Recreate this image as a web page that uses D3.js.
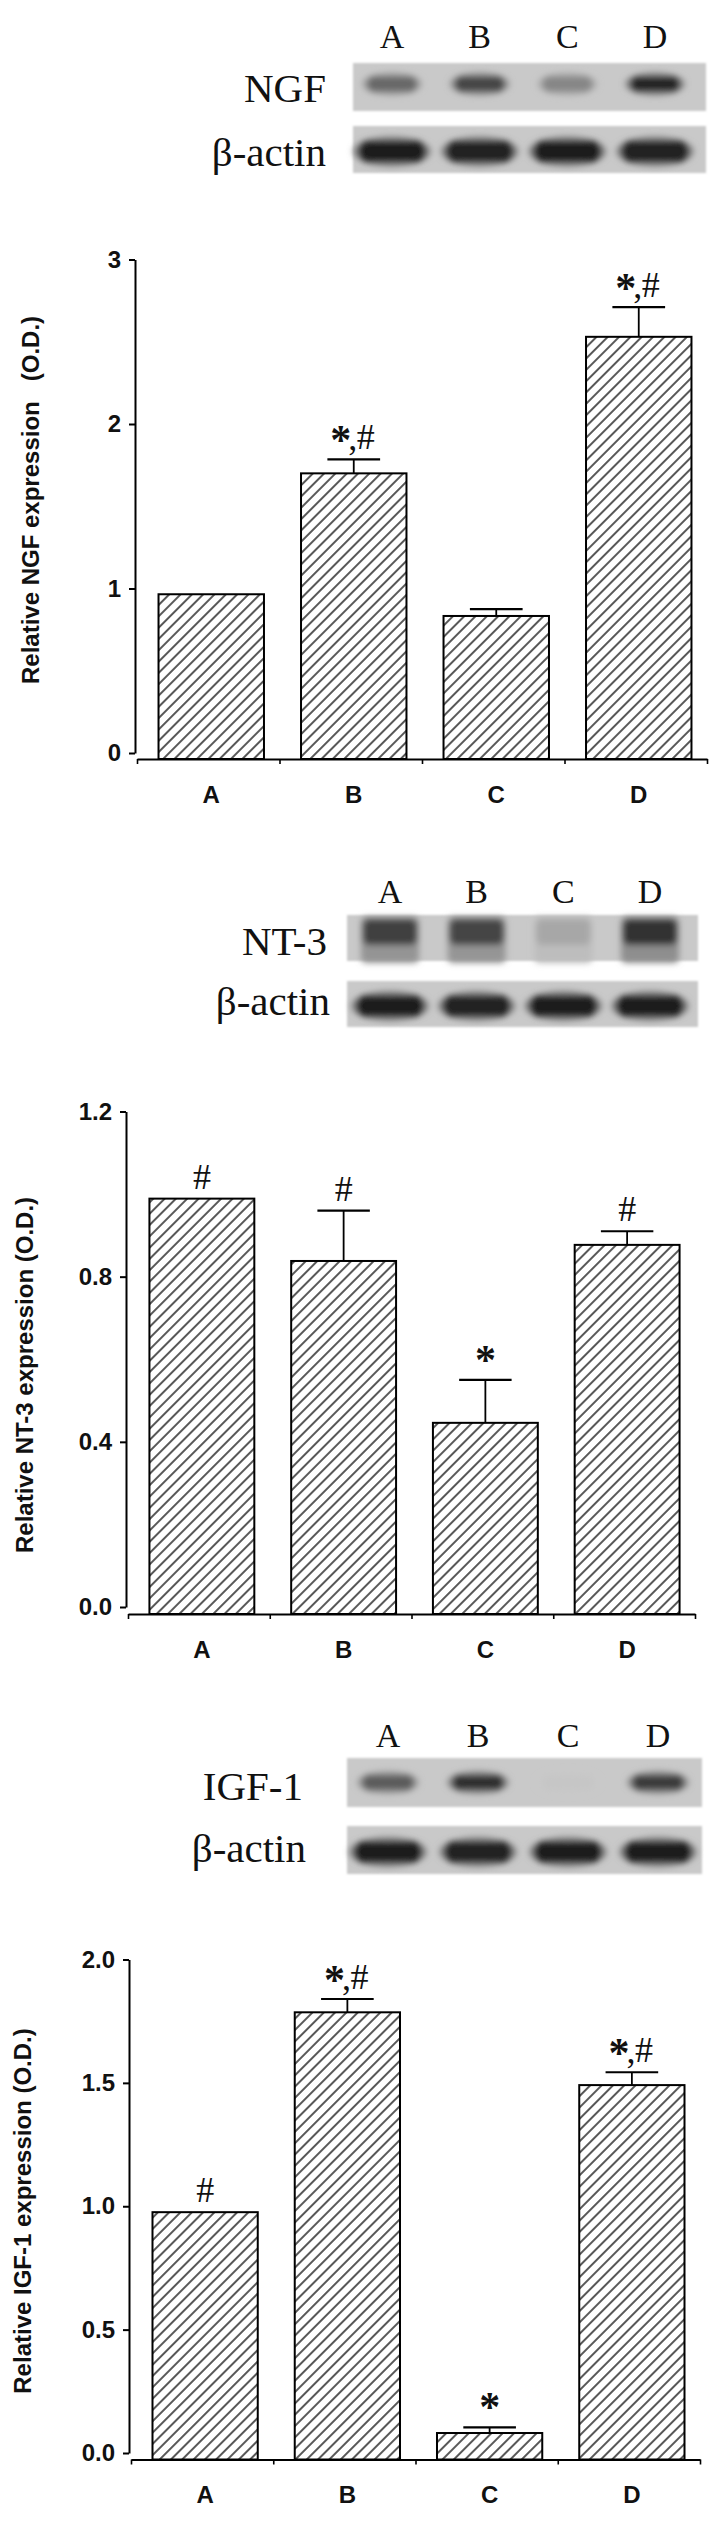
<!DOCTYPE html>
<html><head><meta charset="utf-8">
<script src="https://cdn.jsdelivr.net/npm/d3@7"></script>
<style>
body{margin:0;background:#fff;}
svg{display:block;}
</style></head><body>
<svg id="fig" width="711" height="2523"></svg>
<script>
// ---------- data ----------
const lanes = ["A", "B", "C", "D"];

// NGF
const ngfMean = [0.965, 1.70, 0.833, 2.53];
const ngfSem = [0.0, 0.085, 0.042, 0.18];
const ngfMarks = ["", "*,#", "", "*,#"];
const ngfTicks = [0, 1, 2, 3];
const ngfBlot = [0.55, 0.74, 0.38, 0.93];
const ngfActin = [0.95, 0.93, 0.96, 0.93];

// NT-3
const nt3Mean = [0.989, 0.838, 0.446, 0.877];
const nt3Sem = [0.0, 0.122, 0.104, 0.033];
const nt3Marks = ["#", "#", "*", "#"];
const nt3Ticks = [0.0, 0.4, 0.8, 1.2];
const nt3Blot = [0.76, 0.74, 0.2, 0.84];
const nt3Actin = [0.97, 0.93, 0.97, 0.95];

// IGF-1
const igfMean = [0.976, 1.786, 0.081, 1.491];
const igfSem = [0.0, 0.054, 0.023, 0.052];
const igfMarks = ["#", "*,#", "*", "*,#"];
const igfTicks = [0.0, 0.5, 1.0, 1.5, 2.0];
const igfBlot = [0.62, 0.86, 0.03, 0.8];
const igfActin = [0.96, 0.93, 0.97, 0.95];

// ---------- layout ----------
const SERIF = "'Liberation Serif','Times New Roman',serif";
const SANS = "'Liberation Sans',Arial,Helvetica,sans-serif";

const panels = [
  {name: "NGF", mean: ngfMean, sem: ngfSem, marks: ngfMarks, ticks: ngfTicks, fmt: d3.format("d"),
   blot: ngfBlot, actin: ngfActin, title: "Relative NGF expression\u00a0\u00a0\u00a0(O.D.)",
   laneRange: [392, 655], laneY: 48, boxX: [353, 706], box1: [63, 111], box2: [126, 173],
   bandW: 50, bandH: 15, bandDy: -3, nameX: 326, nameY: 102, actinX: 326, actinY: 166,
   axisX: 135, yRange: [753, 259.5], xAxisY: 759, xRange: [137, 707], titleX: 31, titleY: 500},
  {name: "NT-3", mean: nt3Mean, sem: nt3Sem, marks: nt3Marks, ticks: nt3Ticks, fmt: d3.format(".1f"),
   blot: nt3Blot, actin: nt3Actin, title: "Relative NT-3 expression (O.D.)",
   laneRange: [390, 650], laneY: 903, boxX: [347, 698], box1: [915, 961], box2: [981, 1027],
   bandW: 54, bandH: 26, bandDy: -6, nameX: 327, nameY: 955, actinX: 330, actinY: 1015,
   axisX: 126, yRange: [1607, 1111.5], xAxisY: 1614, xRange: [128, 695], titleX: 25, titleY: 1375},
  {name: "IGF-1", mean: igfMean, sem: igfSem, marks: igfMarks, ticks: igfTicks, fmt: d3.format(".1f"),
   blot: igfBlot, actin: igfActin, title: "Relative IGF-1 expression (O.D.)",
   laneRange: [388, 658], laneY: 1747, boxX: [347, 702], box1: [1758, 1807], box2: [1826, 1874],
   bandW: 52, bandH: 15, bandDy: 0, nameX: 303, nameY: 1800, actinX: 306, actinY: 1862,
   axisX: 129, yRange: [2453, 1959.5], xAxisY: 2459.5, xRange: [131, 700], titleX: 23, titleY: 2211}
];

const svg = d3.select("#fig");
const defs = svg.append("defs");
const pat = defs.append("pattern").attr("id", "hatch").attr("patternUnits", "userSpaceOnUse")
  .attr("width", 8).attr("height", 8).attr("patternTransform", "rotate(45)");
pat.append("rect").attr("width", 8).attr("height", 8).attr("fill", "#fff");
pat.append("line").attr("x1", 4).attr("y1", -1).attr("x2", 4).attr("y2", 9)
  .attr("stroke", "#111").attr("stroke-width", 1.4);
const blur = defs.append("filter").attr("id", "blur").attr("x", "-60%").attr("y", "-150%")
  .attr("width", "220%").attr("height", "400%");
blur.append("feGaussianBlur").attr("stdDeviation", 3.2);
const blurBox = defs.append("filter").attr("id", "blurBox").attr("x", "-5%").attr("y", "-20%")
  .attr("width", "110%").attr("height", "140%");
blurBox.append("feGaussianBlur").attr("stdDeviation", 0.8);

const shade = d3.interpolateRgb("#cbcbcb", "#161616");

panels.forEach(p => {
  const g = svg.append("g");

  // ----- western blot -----
  const lane = d3.scalePoint().domain(lanes).range(p.laneRange);
  g.append("g").selectAll("text").data(lanes).join("text")
    .attr("x", d => lane(d)).attr("y", p.laneY).attr("text-anchor", "middle")
    .attr("font-family", SERIF).attr("font-size", 34).attr("fill", "#111").text(d => d);

  const rows = [
    {box: p.box1, vals: p.blot, w: p.bandW, h: p.bandH, dy: p.bandDy, label: p.name, lx: p.nameX, ly: p.nameY, tall: p.name === "NT-3"},
    {box: p.box2, vals: p.actin, w: 68, h: 22, dy: 2, label: "\u03b2-actin", lx: p.actinX, ly: p.actinY, tall: false}
  ];
  rows.forEach(r => {
    g.append("rect").attr("x", p.boxX[0]).attr("y", r.box[0])
      .attr("width", p.boxX[1] - p.boxX[0]).attr("height", r.box[1] - r.box[0])
      .attr("fill", "#c9c9c9").attr("filter", "url(#blurBox)");
    const cy = (r.box[0] + r.box[1]) / 2 + r.dy;
    const bands = g.append("g").attr("filter", "url(#blur)");
    if (r.tall) {
      // broad diffuse lower smear for the wide NT-3 bands
      bands.selectAll("rect.halo").data(lanes).join("rect").attr("class", "halo")
        .attr("x", d => lane(d) - r.w / 2 - 2).attr("width", r.w + 4)
        .attr("y", cy - r.h / 2 - 2).attr("height", r.h + 20).attr("rx", 5)
        .attr("fill", (d, i) => shade(r.vals[i] * 0.4));
    } else {
      bands.selectAll("ellipse.halo").data(lanes).join("ellipse").attr("class", "halo")
        .attr("cx", d => lane(d)).attr("rx", r.w / 2 + 5)
        .attr("cy", cy).attr("ry", r.h / 2 + 4)
        .attr("fill", (d, i) => shade(r.vals[i] * 0.4));
    }
    const rr = r.tall ? 6 : r.h / 2;
    bands.selectAll("rect.core").data(lanes).join("rect").attr("class", "core")
      .attr("x", d => lane(d) - r.w / 2).attr("width", r.w)
      .attr("y", cy - r.h / 2).attr("height", r.h)
      .attr("rx", rr).attr("ry", rr)
      .attr("fill", (d, i) => shade(r.vals[i]));
    g.append("text").attr("x", r.lx).attr("y", r.ly).attr("text-anchor", "end")
      .attr("font-family", SERIF).attr("font-size", 41).attr("fill", "#111").text(r.label);
  });

  // ----- bar chart -----
  const y = d3.scaleLinear().domain([0, d3.max(p.ticks)]).range(p.yRange);
  const x = d3.scaleBand().domain(lanes).range(p.xRange).paddingInner(0.26).paddingOuter(0.13);
  const shift = 3;
  const bw = x.bandwidth();
  const cx = d => x(d) + shift + bw / 2;

  // bars
  g.append("g").selectAll("rect").data(lanes).join("rect")
    .attr("x", d => x(d) + shift).attr("width", bw)
    .attr("y", (d, i) => y(p.mean[i]))
    .attr("height", (d, i) => p.xAxisY - y(p.mean[i]))
    .attr("fill", "url(#hatch)").attr("stroke", "#000").attr("stroke-width", 2);

  // error bars
  const eg = g.append("g").attr("stroke", "#000");
  lanes.forEach((d, i) => {
    if (p.sem[i] <= 0) return;
    const top = y(p.mean[i] + p.sem[i]);
    eg.append("line").attr("x1", cx(d)).attr("x2", cx(d))
      .attr("y1", y(p.mean[i])).attr("y2", top).attr("stroke-width", 1.8);
    eg.append("line").attr("x1", cx(d) - bw * 0.25).attr("x2", cx(d) + bw * 0.25)
      .attr("y1", top).attr("y2", top).attr("stroke-width", 2.2);
  });

  // significance marks
  const place = (txt, size, weight, tx, ty) => {
    const t = g.append("text").attr("font-family", SERIF).attr("font-weight", weight)
      .attr("font-size", size).attr("fill", "#111").text(txt);
    const b = t.node().getBBox();
    t.attr("x", tx - (b.x + b.width / 2)).attr("y", ty - (b.y + b.height / 2));
    return t;
  };
  lanes.forEach((d, i) => {
    const m = p.marks[i];
    if (!m) return;
    const top = y(p.mean[i] + p.sem[i]);
    const c = cx(d);
    const hash = (hx) => g.append("text").attr("x", hx).attr("y", top - 10).attr("text-anchor", "middle")
      .attr("font-family", SERIF).attr("font-size", 36).attr("fill", "#111").text("#");
    if (m === "#") {
      hash(c);
    } else if (m === "*") {
      place("*", 42, "bold", c, top - 20);
    } else {
      place("*", 42, "bold", c - 13, top - 19);
      g.append("text").attr("x", c - 1).attr("y", top - 9).attr("text-anchor", "middle")
        .attr("font-family", SERIF).attr("font-size", 36).attr("fill", "#111").text(",");
      hash(c + 12);
    }
  });

  // y axis
  const ya = g.append("g").attr("transform", `translate(${p.axisX},0)`)
    .call(d3.axisLeft(y).tickValues(p.ticks).tickFormat(p.fmt).tickSize(6).tickSizeOuter(0).tickPadding(8));
  ya.select(".domain").attr("stroke-width", 2);
  ya.selectAll(".tick line").attr("stroke-width", 2);
  ya.selectAll(".tick text").attr("font-family", SANS).attr("font-weight", "bold")
    .attr("font-size", 24).attr("fill", "#111");

  // x axis (category boundaries)
  const xb = d3.scaleLinear().domain([0, lanes.length]).range([p.xRange[0], p.xRange[0] + x.step() * lanes.length]);
  const xa = g.append("g").attr("transform", `translate(0,${p.xAxisY})`)
    .call(d3.axisBottom(xb).tickValues(d3.range(lanes.length + 1)).tickFormat("").tickSize(5).tickSizeOuter(0));
  xa.select(".domain").attr("stroke-width", 2);
  xa.selectAll(".tick line").attr("stroke-width", 1.6);

  // x labels
  const xl = g.append("g").attr("transform", `translate(${shift},${p.xAxisY})`)
    .call(d3.axisBottom(x).tickSize(0).tickPadding(0));
  xl.select(".domain").remove();
  xl.selectAll(".tick text").attr("y", 35).attr("dy", "0.36em")
    .attr("font-family", SANS).attr("font-weight", "bold").attr("font-size", 24).attr("fill", "#111");

  // y title
  g.append("text").attr("transform", `translate(${p.titleX},${p.titleY}) rotate(-90)`)
    .attr("text-anchor", "middle").attr("dy", "0.35em")
    .attr("font-family", SANS).attr("font-weight", "bold").attr("font-size", 24)
    .attr("fill", "#111").text(p.title);
});
</script>
</body></html>
